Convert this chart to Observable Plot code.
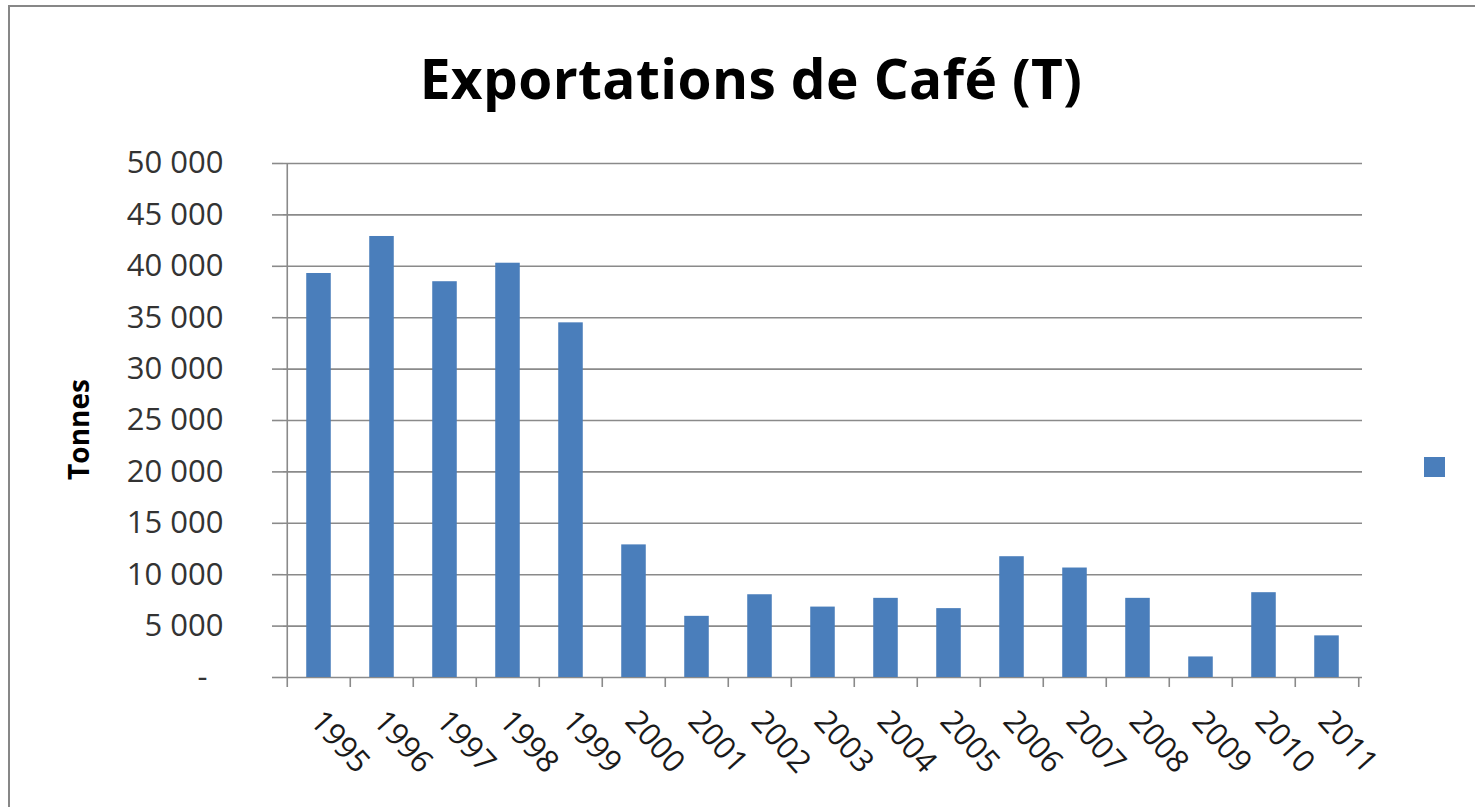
<!DOCTYPE html>
<html><head><meta charset="utf-8">
<script src="https://cdn.jsdelivr.net/npm/d3@7"></script>
<script src="https://cdn.jsdelivr.net/npm/@observablehq/plot@0.6"></script>
<style>
body{margin:0;background:#fff;width:1475px;height:807px;overflow:hidden;position:relative;font-family:"Open Sans",sans-serif}
#frame{position:absolute;left:8px;top:5px;width:1520px;height:900px;border:2px solid #878787;box-sizing:border-box}
#title{position:absolute;left:0;top:50px;width:1502px;text-align:center;font-size:55px;letter-spacing:0.4px;line-height:1;font-weight:700;color:#000;white-space:nowrap}
#chart{position:absolute;left:0;top:130px}
#legend{position:absolute;left:1424px;top:457px;width:21px;height:20px;background:#4a7ebb}
</style></head><body>
<div id="frame"></div>
<div id="title">Exportations de Café (T)</div>
<div id="chart"></div>
<div id="legend"></div>
<script>
const years = ["1995","1996","1997","1998","1999","2000","2001","2002","2003","2004","2005","2006","2007","2008","2009","2010","2011"];
const tonnes = [39300, 42900, 38500, 40300, 34500, 12900, 5950, 8050, 6850, 7700, 6700, 11750, 10650, 7700, 2000, 8250, 4050];
const yTicks = [0, 5000, 10000, 15000, 20000, 25000, 30000, 35000, 40000, 45000, 50000];
const yLabel = "Tonnes";

const data = years.map((y, i) => ({year: y, value: tonnes[i]}));
const W = 1475, H = 677, ML = 283, MR = 113, MT = 33, MB = 130;
const bw = (W - ML - MR) / years.length;
const barInset = (bw - 25) / 2;
const gridColor = "#8a8a8a";
const fmt = d => d === 0 ? "-\u00a0\u00a0" : d3.format(",")(d).replace(/,/g, "\u00a0");

const chart = Plot.plot({
  width: W, height: H,
  marginLeft: ML, marginRight: MR, marginTop: MT, marginBottom: MB,
  style: {fontFamily: "'Open Sans', sans-serif", background: "transparent", overflow: "visible"},
  x: {type: "band", domain: years, padding: 0, label: null},
  y: {domain: [0, 50000], label: null},
  marks: [
    Plot.gridY(yTicks, {stroke: gridColor, strokeOpacity: 1, strokeWidth: 1.6}),
    Plot.axisY(yTicks, {tickFormat: fmt, tickSize: 11, tickPadding: 49, fontSize: 31, stroke: gridColor, strokeOpacity: 1, strokeWidth: 1.6, fill: "#333", label: null}),
    Plot.ruleX([years[0]], {x: d => d, dx: -bw / 2, y1: 0, y2: 50000, stroke: gridColor, strokeWidth: 1.6}),
    Plot.ruleX(years, {x: d => d, dx: -bw / 2, y1: 0, y2: 0, insetBottom: -10, stroke: gridColor, strokeWidth: 1.6}),
    Plot.ruleX([years[years.length - 1]], {x: d => d, dx: bw / 2, y1: 0, y2: 0, insetBottom: -10, stroke: gridColor, strokeWidth: 1.6}),
    Plot.barY(data, {x: "year", y: "value", fill: "#4a7ebb", insetLeft: barInset, insetRight: barInset}),
    Plot.axisX({tickRotate: 48, tickSize: 0, tickPadding: 38, dx: -3, fontSize: 31, fill: "#1a1a1a", label: null}),
    Plot.text([yLabel], {text: d => d, frameAnchor: "left", rotate: -90, dx: -203, dy: 9, fontSize: 28, fontWeight: "bold", fill: "#000", textAnchor: "middle", lineAnchor: "middle"})
  ]
});
document.getElementById("chart").appendChild(chart);
</script>
</body></html>
